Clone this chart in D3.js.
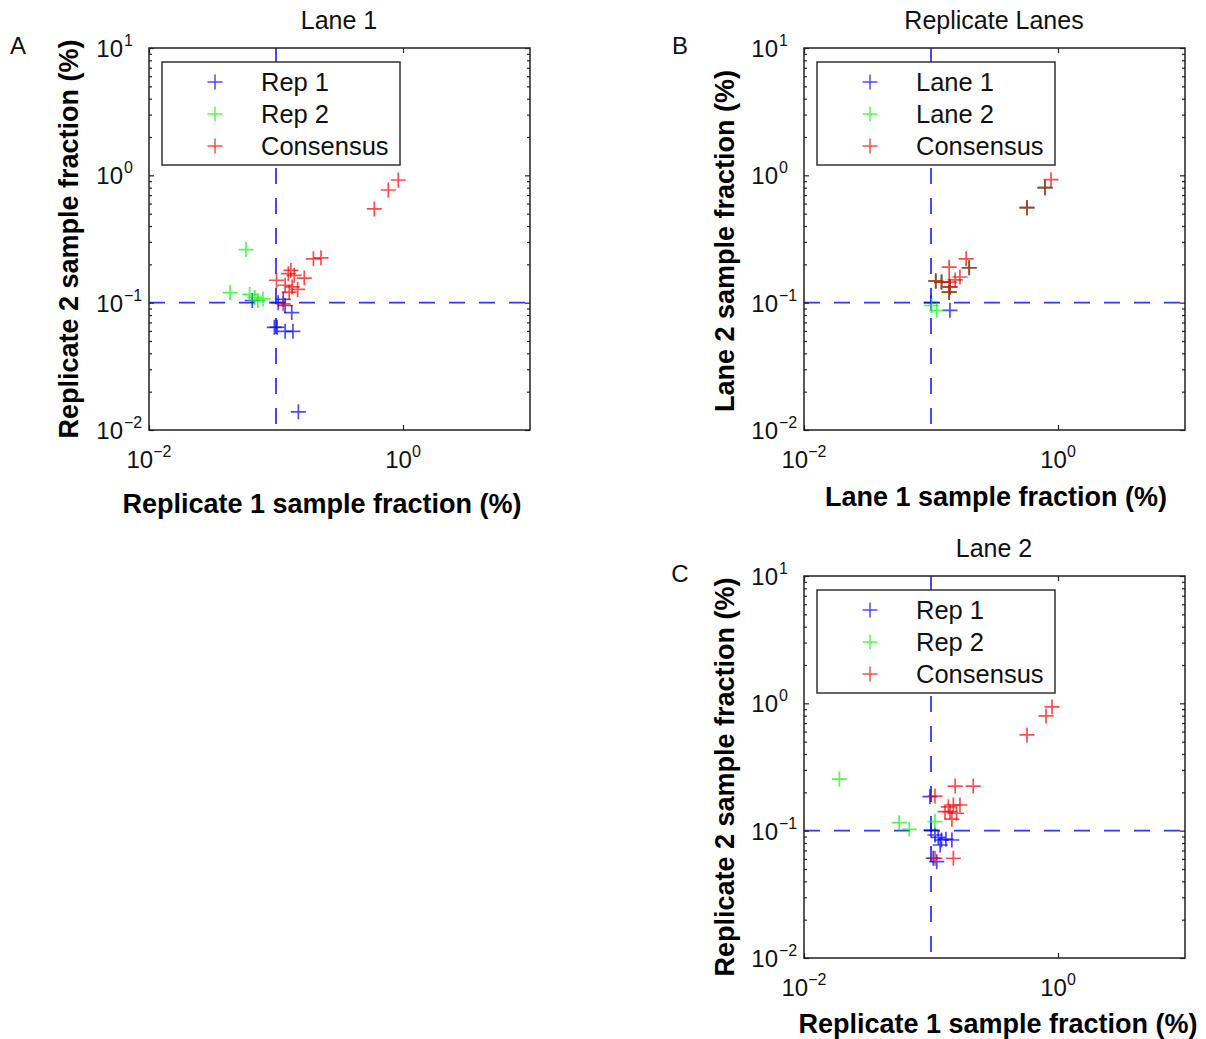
<!DOCTYPE html>
<html>
<head>
<meta charset="utf-8">
<script src="https://cdn.jsdelivr.net/npm/d3@7"></script>
<style>
  body { margin: 0; background: #fff; }
  svg { font-family: "Liberation Sans", Arial, sans-serif; }
</style>
</head>
<body>
<svg width="1206" height="1039"></svg>
<script>
// tick values (log axes)
var xTicks = [0.01, 1];
var yTicks = [0.01, 0.1, 1, 10];

// Panel A - Lane 1
var aRep1 = [[0.065, 0.104], [0.104, 0.100], [0.114, 0.106], [0.118, 0.095], [0.133, 0.0836],
             [0.097, 0.064], [0.102, 0.0641], [0.118, 0.0596], [0.136, 0.0596], [0.150, 0.0139]];
var aRep2 = [[0.0435, 0.120], [0.058, 0.261], [0.062, 0.116], [0.068, 0.110], [0.072, 0.104], [0.079, 0.107]];
var aConsensus = [[0.197, 0.221], [0.226, 0.225], [0.131, 0.179], [0.125, 0.169], [0.139, 0.164],
                  [0.167, 0.156], [0.101, 0.150], [0.118, 0.137], [0.134, 0.133], [0.148, 0.127],
                  [0.127, 0.121], [0.114, 0.098], [0.594, 0.545], [0.766, 0.767], [0.918, 0.919]];

// Panel B - Replicate lanes
var bLane1 = [[0.570, 0.557], [0.79, 0.80], [0.200, 0.188], [0.109, 0.148], [0.121, 0.145],
              [0.141, 0.133], [0.139, 0.121], [0.141, 0.087], [0.100, 0.100]];
var bLane2 = [[0.570, 0.557], [0.79, 0.80], [0.200, 0.188], [0.109, 0.148], [0.121, 0.145],
              [0.141, 0.133], [0.139, 0.121], [0.101, 0.095], [0.111, 0.087]];
var bConsensus = [[0.570, 0.557], [0.79, 0.80], [0.200, 0.188], [0.109, 0.148], [0.121, 0.145],
                  [0.141, 0.133], [0.139, 0.121], [0.881, 0.924], [0.189, 0.221], [0.139, 0.19],
                  [0.139, 0.145], [0.155, 0.151], [0.169, 0.159]];

// Panel C - Lane 2
var cRep1 = [[0.098, 0.185], [0.100, 0.101], [0.1075, 0.0925], [0.114, 0.0887], [0.121, 0.0845],
             [0.131, 0.0858], [0.146, 0.0845], [0.118, 0.0772], [0.104, 0.0607], [0.111, 0.0571]];
var cRep2 = [[0.019, 0.254], [0.0562, 0.1156], [0.0675, 0.1025], [0.1075, 0.1178]];
var cConsensus = [[0.155, 0.224], [0.215, 0.224], [0.1075, 0.187], [0.137, 0.154], [0.150, 0.159],
                  [0.169, 0.159], [0.129, 0.141], [0.141, 0.141], [0.159, 0.137], [0.146, 0.123],
                  [0.1075, 0.0607], [0.150, 0.0607], [0.570, 0.565], [0.805, 0.796], [0.897, 0.937]];

var seriesColors = ["#0000ff", "#00ff00", "#ff0000"];

var svg = d3.select("svg");

function expText(v) {
  var e = Math.round(Math.log10(v));
  return e < 0 ? "\u2212" + (-e) : String(e);
}

function supLabel(sel, v) {
  sel.append("tspan").text("10");
  sel.append("tspan").attr("font-size", 16).attr("dy", -11).text(expText(v));
}

function drawPanel(p) {
  var x = d3.scaleLog().domain([0.01, 10]).range([p.left, p.left + 381]);
  var y = d3.scaleLog().domain([0.01, 10]).range([p.top + 382, p.top]);
  var g = svg.append("g");

  // dashed threshold lines
  g.append("line")
    .attr("x1", x(0.1)).attr("x2", x(0.1)).attr("y1", y(10)).attr("y2", y(0.01))
    .attr("stroke", "#0000ff").attr("stroke-opacity", 0.8).attr("stroke-width", 1.8)
    .attr("stroke-dasharray", "16,14");
  g.append("line")
    .attr("x1", x(0.01)).attr("x2", x(10)).attr("y1", y(0.1)).attr("y2", y(0.1))
    .attr("stroke", "#0000ff").attr("stroke-opacity", 0.8).attr("stroke-width", 1.8)
    .attr("stroke-dasharray", "16,14");

  // markers
  p.series.forEach(function(s, i) {
    g.append("g").selectAll("path")
      .data(s)
      .enter().append("path")
        .attr("d", function(d) {
          var cx = x(d[0]), cy = y(d[1]);
          return "M" + (cx - 7.5) + "," + cy + "h15M" + cx + "," + (cy - 7.5) + "v15";
        })
        .attr("fill", "none")
        .attr("stroke", seriesColors[i])
        .attr("stroke-width", 1.7)
        .attr("stroke-opacity", 0.7);
  });

  // ticks (inward)
  var minor = y.ticks().filter(function(v) { return yTicks.indexOf(v) < 0; });
  function tickAxis(axis, tr, vals, len) {
    var a = g.append("g").attr("transform", tr)
      .call(axis.tickValues(vals).tickSize(-len).tickFormat(""));
    a.select(".domain").remove();
    a.selectAll("line").attr("stroke", "#222").attr("stroke-width", 1.2);
  }
  tickAxis(d3.axisLeft(y), "translate(" + p.left + ",0)", minor, 3);
  tickAxis(d3.axisLeft(y), "translate(" + p.left + ",0)", yTicks, 5);
  tickAxis(d3.axisRight(y), "translate(" + (p.left + 381) + ",0)", minor, 3);
  tickAxis(d3.axisRight(y), "translate(" + (p.left + 381) + ",0)", yTicks, 5);
  tickAxis(d3.axisBottom(x), "translate(0," + (p.top + 382) + ")", xTicks, 5);
  tickAxis(d3.axisTop(x), "translate(0," + p.top + ")", xTicks, 5);

  // box
  g.append("rect")
    .attr("x", p.left).attr("y", p.top).attr("width", 381).attr("height", 382)
    .attr("fill", "none").attr("stroke", "#222").attr("stroke-width", 1.5);

  // tick labels: y labels have the "10" base at a fixed spot, exponent after it
  yTicks.forEach(function(v) {
    g.append("text")
      .attr("x", p.left - 26).attr("y", y(v) + 9)
      .attr("text-anchor", "end").attr("font-size", 24).attr("fill", "#111")
      .text("10");
    g.append("text")
      .attr("x", p.left - 25).attr("y", y(v) - 2)
      .attr("font-size", 16).attr("fill", "#111")
      .text(expText(v));
  });
  xTicks.forEach(function(v) {
    g.append("text")
      .attr("x", x(v)).attr("y", p.top + 382 + 38)
      .attr("text-anchor", "middle").attr("font-size", 24).attr("fill", "#111")
      .call(supLabel, v);
  });

  // legend
  var lg = g.append("g");
  lg.append("rect")
    .attr("x", p.left + 13).attr("y", p.top + 14).attr("width", 238).attr("height", 103)
    .attr("fill", "#fff").attr("stroke", "#333").attr("stroke-width", 1.5);
  p.legend.forEach(function(name, i) {
    var ly = p.top + 34 + i * 32;
    var lx = p.left + 66;
    lg.append("path")
      .attr("d", "M" + (lx - 7.5) + "," + ly + "h15M" + lx + "," + (ly - 7.5) + "v15")
      .attr("stroke", seriesColors[i]).attr("stroke-width", 1.5).attr("stroke-opacity", 0.7);
    lg.append("text")
      .attr("x", p.left + 112).attr("y", ly + 9)
      .attr("font-size", 25.5).attr("fill", "#111")
      .text(name);
  });

  // title, axis labels, panel letter
  g.append("text")
    .attr("x", p.left + 190).attr("y", p.top - 19)
    .attr("text-anchor", "middle").attr("font-size", 25).attr("fill", "#111")
    .text(p.title);
  g.append("text")
    .attr("x", p.xLabelX).attr("y", p.top + 382 + p.xLabelDy)
    .attr("text-anchor", "middle").attr("font-size", 27).attr("font-weight", "bold").attr("fill", "#000")
    .text(p.xLabel);
  g.append("text")
    .attr("transform", "translate(" + p.yLabelX + "," + p.yLabelY + ") rotate(-90)")
    .attr("text-anchor", "middle").attr("font-size", 27).attr("font-weight", "bold").attr("fill", "#000")
    .text(p.yLabel);
  g.append("text")
    .attr("x", p.letterX).attr("y", p.top + 6)
    .attr("text-anchor", "middle").attr("font-size", 24).attr("fill", "#111")
    .text(p.letter);
}

drawPanel({
  left: 149, top: 48, title: "Lane 1", letter: "A", letterX: 18,
  series: [aRep1, aRep2, aConsensus], legend: ["Rep 1", "Rep 2", "Consensus"],
  xLabel: "Replicate 1 sample fraction (%)", xLabelX: 322, xLabelDy: 83,
  yLabel: "Replicate 2 sample fraction (%)", yLabelX: 78, yLabelY: 239
});
drawPanel({
  left: 804, top: 48, title: "Replicate Lanes", letter: "B", letterX: 680,
  series: [bLane1, bLane2, bConsensus], legend: ["Lane 1", "Lane 2", "Consensus"],
  xLabel: "Lane 1 sample fraction (%)", xLabelX: 996, xLabelDy: 76,
  yLabel: "Lane 2 sample fraction (%)", yLabelX: 734, yLabelY: 241
});
drawPanel({
  left: 804, top: 576, title: "Lane 2", letter: "C", letterX: 680,
  series: [cRep1, cRep2, cConsensus], legend: ["Rep 1", "Rep 2", "Consensus"],
  xLabel: "Replicate 1 sample fraction (%)", xLabelX: 998, xLabelDy: 75,
  yLabel: "Replicate 2 sample fraction (%)", yLabelX: 734, yLabelY: 777
});
</script>
</body>
</html>
